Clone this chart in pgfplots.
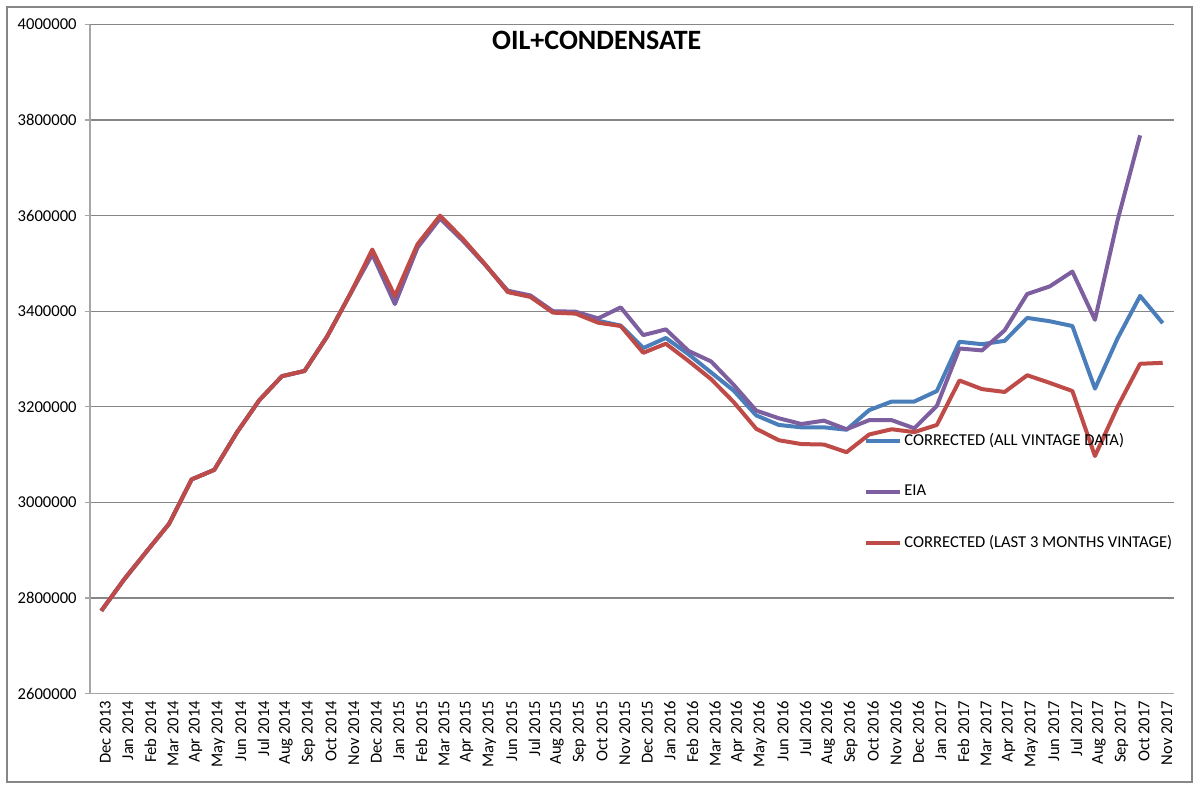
\documentclass[border=0pt]{standalone}
\usepackage{pgfplots}
\pgfplotsset{compat=1.18}
\usepackage{pgfplotstable}
\usepackage{fontspec}
\setmainfont{Carlito}
\definecolor{cblue}{HTML}{4A7EBB}
\definecolor{cpurple}{HTML}{7D5FA0}
\definecolor{cred}{HTML}{BE4B48}
\definecolor{gridc}{HTML}{868686}
\definecolor{axc}{HTML}{A6A6A6}
\pgfplotstableread{
i blue eia red
0 2773000 2773000 2773000
1 2838000 2838000 2838000
2 2897000 2897000 2897000
3 2955000 2955000 2955000
4 3048000 3048000 3048000
5 3068000 3068000 3068000
6 3146000 3146000 3146000
7 3214000 3214000 3214000
8 3264000 3264000 3264000
9 3275000 3275000 3275000
10 3347000 3347000 3347000
11 3434000 3434000 3434000
12 3522000 3519000 3529000
13 3418000 3415000 3432000
14 3535000 3533000 3540000
15 3596000 3594000 3600000
16 3550000 3548000 3552000
17 3497000 3497000 3498000
18 3441000 3443000 3440000
19 3431000 3433000 3430000
20 3399000 3400000 3397000
21 3397000 3399000 3395000
22 3380000 3385000 3376000
23 3370000 3408000 3369000
24 3323000 3350000 3313000
25 3344000 3362000 3332000
26 3310000 3317000 3296000
27 3272000 3295000 3258000
28 3234000 3246000 3210000
29 3182000 3192000 3154000
30 3162000 3176000 3130000
31 3157000 3164000 3122000
32 3157000 3171000 3121000
33 3152000 3153000 3105000
34 3193000 3172000 3142000
35 3211000 3172000 3153000
36 3211000 3155000 3147000
37 3233000 3202000 3162000
38 3336000 3322000 3255000
39 3331000 3318000 3237000
40 3338000 3360000 3231000
41 3386000 3436000 3266000
42 3379000 3452000 3250000
43 3369000 3483000 3233000
44 3238000 3382000 3097000
45 3343000 3590000 3200000
46 3432000 3768000 3290000
47 3375000 nan 3292000
}\datatable
\begin{document}
\begin{tikzpicture}
\begin{axis}[
  scale only axis,
  width=542pt, height=334.5pt,
  xmin=-0.5, xmax=47.5,
  ymin=2600000, ymax=4000000,
  ytick={2600000,2800000,3000000,3200000,3400000,3600000,3800000,4000000},
  scaled y ticks=false,
  yticklabel style={/pgf/number format/fixed,/pgf/number format/1000 sep={},/pgf/number format/assume math mode=true,font=\fontsize{8.3}{9}\selectfont,inner sep=1pt,xshift=-3pt},
  xtick={0,...,47},
  xticklabels={Dec 2013,Jan 2014,Feb 2014,Mar 2014,Apr 2014,May 2014,Jun 2014,Jul 2014,Aug 2014,Sep 2014,Oct 2014,Nov 2014,Dec 2014,Jan 2015,Feb 2015,Mar 2015,Apr 2015,May 2015,Jun 2015,Jul 2015,Aug 2015,Sep 2015,Oct 2015,Nov 2015,Dec 2015,Jan 2016,Feb 2016,Mar 2016,Apr 2016,May 2016,Jun 2016,Jul 2016,Aug 2016,Sep 2016,Oct 2016,Nov 2016,Dec 2016,Jan 2017,Feb 2017,Mar 2017,Apr 2017,May 2017,Jun 2017,Jul 2017,Aug 2017,Sep 2017,Oct 2017,Nov 2017},
  xticklabel style={rotate=90,anchor=east,font=\fontsize{8.3}{9}\selectfont,inner sep=1pt,yshift=-2pt},
  major x tick style={draw=none},
  extra x ticks={-0.5,0.5,...,47.5},
  extra x tick labels={},
  extra x tick style={major tick length=2.5pt,tick style={draw=axc,line width=0.6pt},grid=none},
  tick align=outside,
  major tick length=2.5pt,
  tick style={draw=axc,line width=0.6pt},
  axis x line*=bottom, axis y line*=left,
  axis line style={draw=axc,line width=0.8pt,-},
  ymajorgrids,
  major grid style={draw=gridc,line width=0.6pt},
  unbounded coords=jump,
  legend style={at={(0.714,0.393)},anchor=north west,draw=none,fill=none,font=\fontsize{8.3}{9}\selectfont,row sep=16.5pt,inner sep=0pt,nodes={inner sep=1pt}},
  legend cell align=left,
  legend image code/.code={\draw[#1,line width=2pt] (0pt,0pt) -- (17pt,0pt);},
  every axis plot/.append style={line width=2pt,line join=round},
]
\addplot[cblue] table[x=i,y=blue] {\datatable};
\addlegendentry{CORRECTED (ALL VINTAGE DATA)}
\addplot[cpurple] table[x=i,y=eia] {\datatable};
\addlegendentry{EIA}
\addplot[cred] table[x=i,y=red] {\datatable};
\addlegendentry{CORRECTED (LAST 3 MONTHS VINTAGE)}
\node[font=\bfseries\fontsize{14}{16}\selectfont] at (rel axis cs:0.4675,0.976) {OIL+CONDENSATE};
\end{axis}
\pgfresetboundingbox
\useasboundingbox (current axis.south west) ++(-45pt,-47.75pt) rectangle ++(600pt,394.5pt);
\draw[gridc,line width=0.6pt] (current axis.south west) ++(-41.5pt,-44.25pt) rectangle ++(592.5pt,387.5pt);
\end{tikzpicture}
\end{document}
